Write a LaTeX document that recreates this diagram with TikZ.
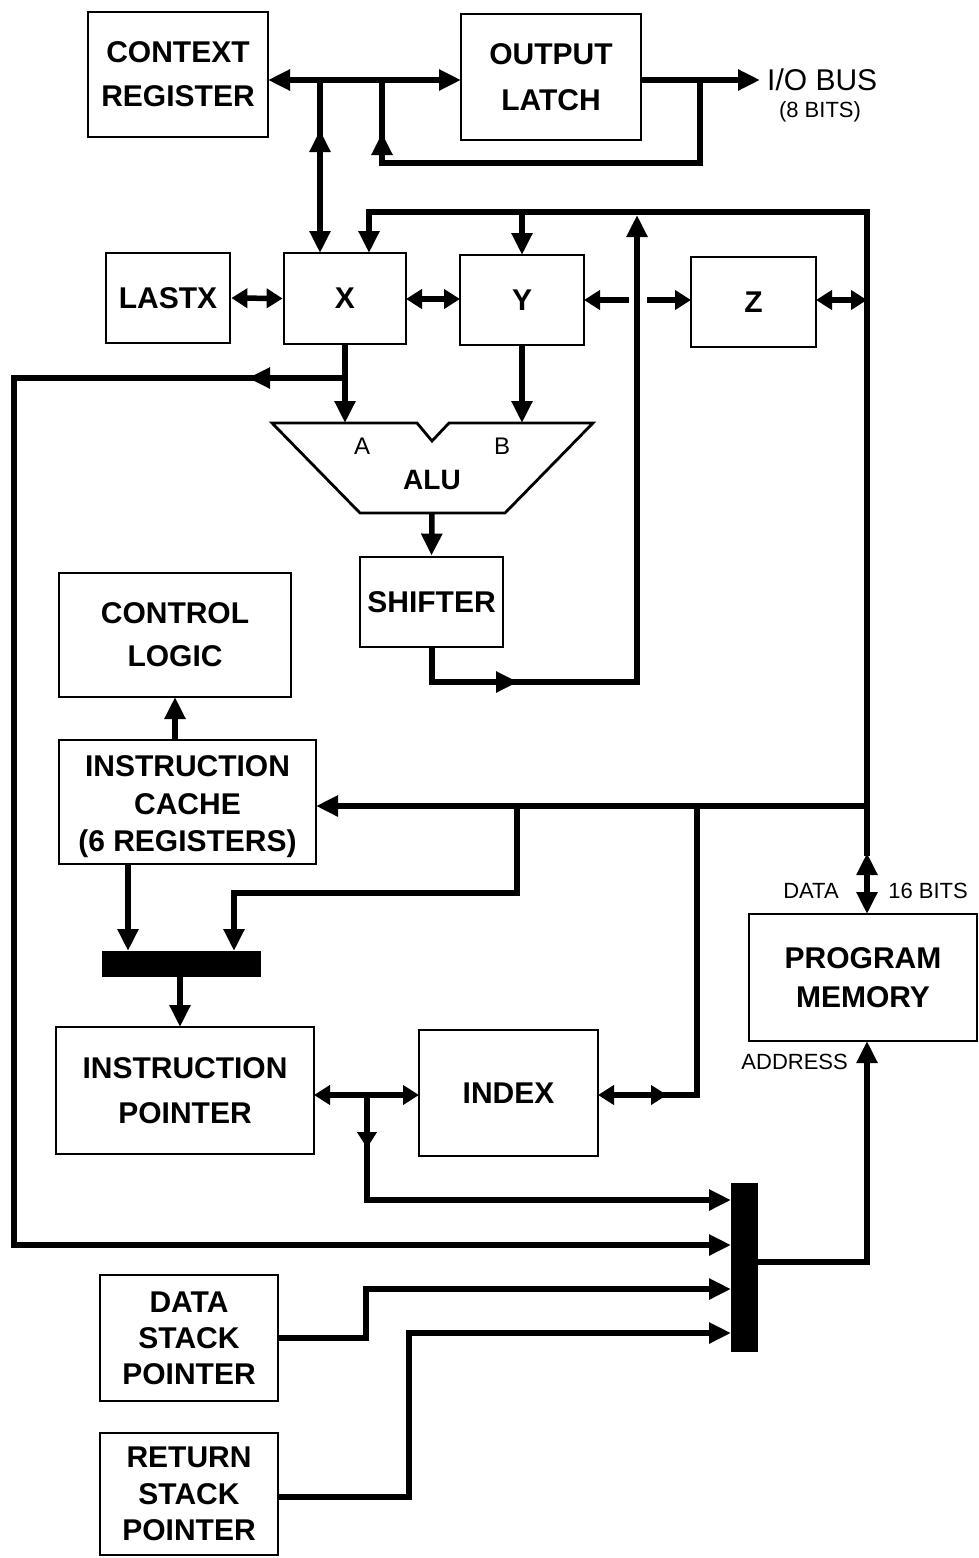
\documentclass[tikz,border=0pt]{standalone}
\usepackage{fontspec}
\setmainfont{Liberation Sans}
\usetikzlibrary{arrows.meta}
\begin{document}
\begin{tikzpicture}[x=1pt,y=-1pt,
  box/.style={draw, line width=2.8pt, align=center, inner sep=0pt, font=\bfseries\fontsize{30}{#1}\selectfont},
  box/.default=43,
  txt/.style={align=center, inner sep=0pt, font=\bfseries\fontsize{30}{#1}\selectfont},
  bus/.style={line width=5.5pt},
  Big/.tip={Triangle[length=22pt,width=20pt]},
  Sm/.tip={Triangle[length=16pt,width=19pt]},
  lbl/.style={inner sep=0pt, font=\fontsize{22}{22}\selectfont},
  muxbar/.style={fill=black, draw=none, inner sep=0pt}
]
\useasboundingbox (0,0) rectangle (979,1558);

% boxes
\node[box=44, minimum width=180pt, minimum height=125pt] (cr) at (178,74.5) {CONTEXT\\REGISTER};
\node[box=46, minimum width=180pt, minimum height=126pt] (ol) at (551,77) {OUTPUT\\LATCH};
\node[box, minimum width=124pt, minimum height=90pt] (lastx) at (168,298) {LASTX};
\node[box, minimum width=122pt, minimum height=91pt] (X) at (345,298.5) {X};
\node[box, minimum width=124pt, minimum height=90pt] (Y) at (522,300) {Y};
\node[box, minimum width=125pt, minimum height=90pt] (Z) at (753.5,302) {Z};
\node[box, minimum width=143pt, minimum height=90pt] (sh) at (431.5,602) {SHIFTER};
\node[box=43, minimum width=232pt, minimum height=124pt] (cl) at (175,635) {CONTROL\\LOGIC};
\node[box, minimum width=257pt, minimum height=124pt] (ic) at (187.5,802) {};
\node[txt=37.5] (ict) at (187.5,807) {INSTRUCTION\\CACHE\\(6 REGISTERS)};
\node[muxbar, minimum width=159pt, minimum height=26pt] (mux1) at (181.5,964) {};
\node[box=45, minimum width=258pt, minimum height=127pt] (ip) at (185,1090.5) {INSTRUCTION\\POINTER};
\node[box, minimum width=179pt, minimum height=126pt] (index) at (508.5,1093) {INDEX};
\node[box=39, minimum width=228pt, minimum height=127pt] (pm) at (863,977.5) {PROGRAM\\MEMORY};
\node[muxbar, minimum width=27pt, minimum height=169pt] (mux2) at (744.5,1267.5) {};
\node[box=36, minimum width=178pt, minimum height=126pt] (dsp) at (189,1338) {DATA\\STACK\\POINTER};
\node[box=36.5, minimum width=178pt, minimum height=122pt] (rsp) at (189,1494) {RETURN\\STACK\\POINTER};

% ALU
\draw[line width=2.8pt, line join=miter] (272,423) -- (417,423) -- (432,441) -- (449,423) -- (593,423) -- (505,513) -- (360,513) -- cycle;
\node[inner sep=0pt, font=\fontsize{24}{24}\selectfont] (la) at (362,446) {A};
\node[inner sep=0pt, font=\fontsize{24}{24}\selectfont] (lb) at (502,446) {B};
\node[inner sep=0pt, font=\bfseries\fontsize{28}{28}\selectfont] (alu) at (432,480) {ALU};
\coordinate (aluA) at (345,423);
\coordinate (aluB) at (522,423);
\coordinate (aluO) at (432,513);

% labels
\node[anchor=west, inner sep=0pt, font=\fontsize{30}{30}\selectfont] (io) at (767,80) {I/O BUS};
\node[lbl] (iob) at (820,112) {(8 BITS)};
\node[lbl] (data) at (811,891) {DATA};
\node[lbl] (bits) at (928,891) {16 BITS};
\node[lbl, anchor=east] (addr) at (848,1062) {ADDRESS};

% top connections
\draw[bus,Big-Big] (268,80) -- (461,80);
\draw[bus,-Big] (641,80) -- (760,80);
\draw[bus,-Big] (320,80) -- (320,253);
\draw[bus,-Big] (320,152) -- (320,130);
\draw[bus] (700,80) -- (700,163) -- (382,163) -- (382,80);
\draw[bus,-Big] (382,155) -- (382,133);

% main data bus
\draw[bus,-Big] (867,856) -- (867,212) -- (369,212) -- (369,253);
\draw[bus,-Big] (522,212) -- (522,255);
\draw[bus,Big-Big] (867,853) -- (867,914);

% register row
\draw[bus,Sm-Sm] (lastx.east) -- (X.west);
\draw[bus,Sm-Sm] (406,299) -- (460,299);
\draw[bus,-Sm] (629,300) -- (584,300);
\draw[bus,-Sm] (647,300) -- (691,300);
\draw[bus,Sm-Sm] (816,300) -- (867,300);

% to ALU
\draw[bus,-Big] (345,344) -- (aluA);
\draw[bus,-Big] (345,378) -- (248,378);
\draw[bus,-Big] (258,378) -- (14,378) -- (14,1245) -- (731,1245);
\draw[bus,-Big] (522,345) -- (aluB);
\draw[bus,-Big] (aluO) -- (sh.north);

% shifter output
\draw[bus,-Big] (432,647) -- (432,682) -- (518,682);
\draw[bus,-Big] (510,682) -- (637,682) -- (637,215);

% instruction cache
\draw[bus,-Big] (175,740) -- (175,697);
\draw[bus,-Big] (867,806) -- (316,806);
\draw[bus,-Big] (517,806) -- (517,893) -- (234,893) -- (234,951);
\draw[bus,-Big] (128,864) -- (128,951);
\draw[bus,-Big] (180,977) -- (180,1027);

% index
\draw[bus] (697,806) -- (697,1095) -- (660,1095);
\draw[bus,Sm-Sm] (598,1095) -- (667,1095);
\draw[bus,Sm-Sm] (314,1095) -- (419,1095);
\draw[bus,-Sm] (367,1095) -- (367,1148);
\draw[bus,-Big] (367,1140) -- (367,1200) -- (731,1200);

% stack pointers
\draw[bus,-Big] (278,1338) -- (366,1338) -- (366,1289) -- (731,1289);
\draw[bus,-Big] (278,1497) -- (409,1497) -- (409,1333) -- (731,1333);

% address
\draw[bus,-Big] (758,1262) -- (867,1262) -- (867,1041);
\end{tikzpicture}
\end{document}
